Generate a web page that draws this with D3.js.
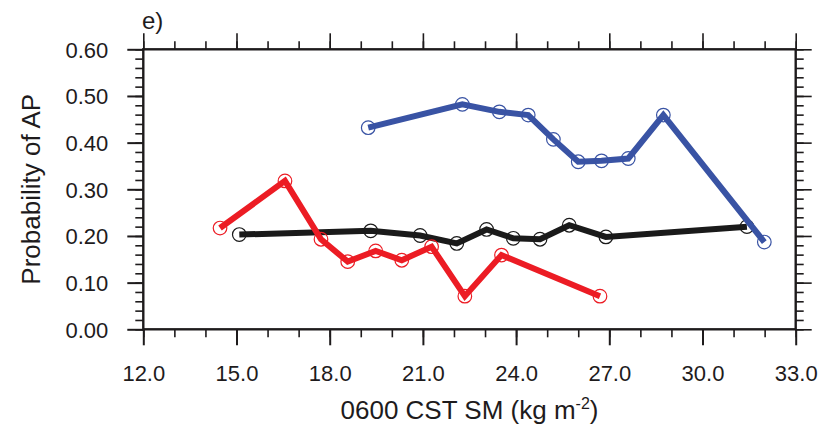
<!DOCTYPE html>
<html>
<head>
<meta charset="utf-8">
<script src="https://cdn.jsdelivr.net/npm/d3@7"></script>
<style>
  html, body { margin: 0; padding: 0; background: #fff; }
  svg { display: block; }
  text { font-family: "Liberation Sans", Arial, Helvetica, sans-serif; fill: #1e1b1c; }
</style>
</head>
<body>
<svg id="chart" width="821" height="427"></svg>
<script>
// ---- data ----
const redX   = [14.47, 16.56, 17.72, 18.58, 19.48, 20.32, 21.28, 22.35, 23.53, 26.70];
const redY   = [0.217, 0.318, 0.193, 0.145, 0.168, 0.148, 0.177, 0.071, 0.159, 0.071];
const blackX = [15.09, 19.32, 20.91, 22.09, 23.05, 23.91, 24.77, 25.71, 26.89, 31.43];
const blackY = [0.203, 0.211, 0.201, 0.184, 0.214, 0.195, 0.193, 0.223, 0.198, 0.220];
const blueX  = [19.24, 22.27, 23.46, 24.39, 25.20, 26.00, 26.75, 27.61, 28.74, 31.99];
const blueY  = [0.432, 0.482, 0.466, 0.459, 0.407, 0.359, 0.361, 0.366, 0.459, 0.187];
const xTicks = [12, 15, 18, 21, 24, 27, 30, 33];
const yTicks = [0.0, 0.1, 0.2, 0.3, 0.4, 0.5, 0.6];
const xTitle = "0600 CST SM (kg m";
const yTitle = "Probability of AP";
const panelLabel = "e)";

// ---- layout ----
const L = 143.3, R = 795.7, T = 49.3, B = 329.3;
const svg = d3.select("#chart");
const x = d3.scaleLinear().domain([12, 33]).range([L, R]);
const y = d3.scaleLinear().domain([0, 0.6]).range([B, T]);
const ink = "#1e1b1c";

const xMinor = d3.range(12, 33.001, 1);
const yMinor = d3.range(0, 0.6001, 0.02);

function axisGroup(axis, tx, ty) {
  const g = svg.append("g").attr("transform", `translate(${tx},${ty})`).call(axis);
  g.select(".domain").remove();
  g.selectAll("line").attr("stroke", ink).attr("stroke-width", 1.6);
  return g;
}
// minor ticks
axisGroup(d3.axisBottom(x).tickValues(xMinor).tickSize(8).tickFormat(""), 0, B);
axisGroup(d3.axisTop(x).tickValues(xMinor).tickSize(8).tickFormat(""), 0, T);
axisGroup(d3.axisLeft(y).tickValues(yMinor).tickSize(8).tickFormat(""), L, 0);
axisGroup(d3.axisRight(y).tickValues(yMinor).tickSize(8).tickFormat(""), R, 0);
// major ticks
const gb = axisGroup(d3.axisBottom(x).tickValues(xTicks).tickSize(16).tickPadding(20).tickFormat(d3.format(".1f")), 0, B);
axisGroup(d3.axisTop(x).tickValues(xTicks).tickSize(16).tickFormat(""), 0, T);
const gl = axisGroup(d3.axisLeft(y).tickValues(yTicks).tickSize(16).tickPadding(19).tickFormat(d3.format(".2f")), L, 0);
axisGroup(d3.axisRight(y).tickValues(yTicks).tickSize(16).tickFormat(""), R, 0);
gb.selectAll("line").attr("stroke-width", 2);
gl.selectAll("line").attr("stroke-width", 2);
svg.selectAll("g text").attr("font-size", 22).attr("font-family", null).attr("fill", ink);
gl.selectAll("text").attr("dy", "0.36em");
gb.selectAll("text").attr("dy", "0.71em");

// frame
svg.append("rect").attr("x", L).attr("y", T).attr("width", R - L).attr("height", B - T)
  .attr("fill", "none").attr("stroke", ink).attr("stroke-width", 2.4);

// series
const series = [
  { xs: blackX, ys: blackY, color: "#1a1a1a" },
  { xs: redX, ys: redY, color: "#ec1c24" },
  { xs: blueX, ys: blueY, color: "#3953a4" }
];
const line = d3.line().x(d => x(d[0])).y(d => y(d[1]));
series.forEach(s => {
  const pts = s.xs.map((v, i) => [v, s.ys[i]]);
  svg.append("path").datum(pts).attr("d", line).attr("fill", "none")
    .attr("stroke", s.color).attr("stroke-width", 6).attr("stroke-linejoin", "miter");
  svg.append("g").selectAll("circle").data(pts).join("circle")
    .attr("cx", d => x(d[0])).attr("cy", d => y(d[1])).attr("r", 6.8)
    .attr("fill", "none").attr("stroke", s.color).attr("stroke-width", 1.2);
});

// titles
const xt = svg.append("text").attr("x", (L + R) / 2).attr("y", 419).attr("text-anchor", "middle")
  .attr("font-size", 26);
xt.append("tspan").text(xTitle);
xt.append("tspan").attr("font-size", 16).attr("dy", -10).text("-2");
xt.append("tspan").attr("dy", 10).text(")");

svg.append("text").attr("transform", `translate(40,${(T + B) / 2}) rotate(-90)`)
  .attr("text-anchor", "middle").attr("font-size", 26).text(yTitle);

svg.append("text").attr("x", 142).attr("y", 29).attr("font-size", 24).text(panelLabel);
</script>
</body>
</html>
